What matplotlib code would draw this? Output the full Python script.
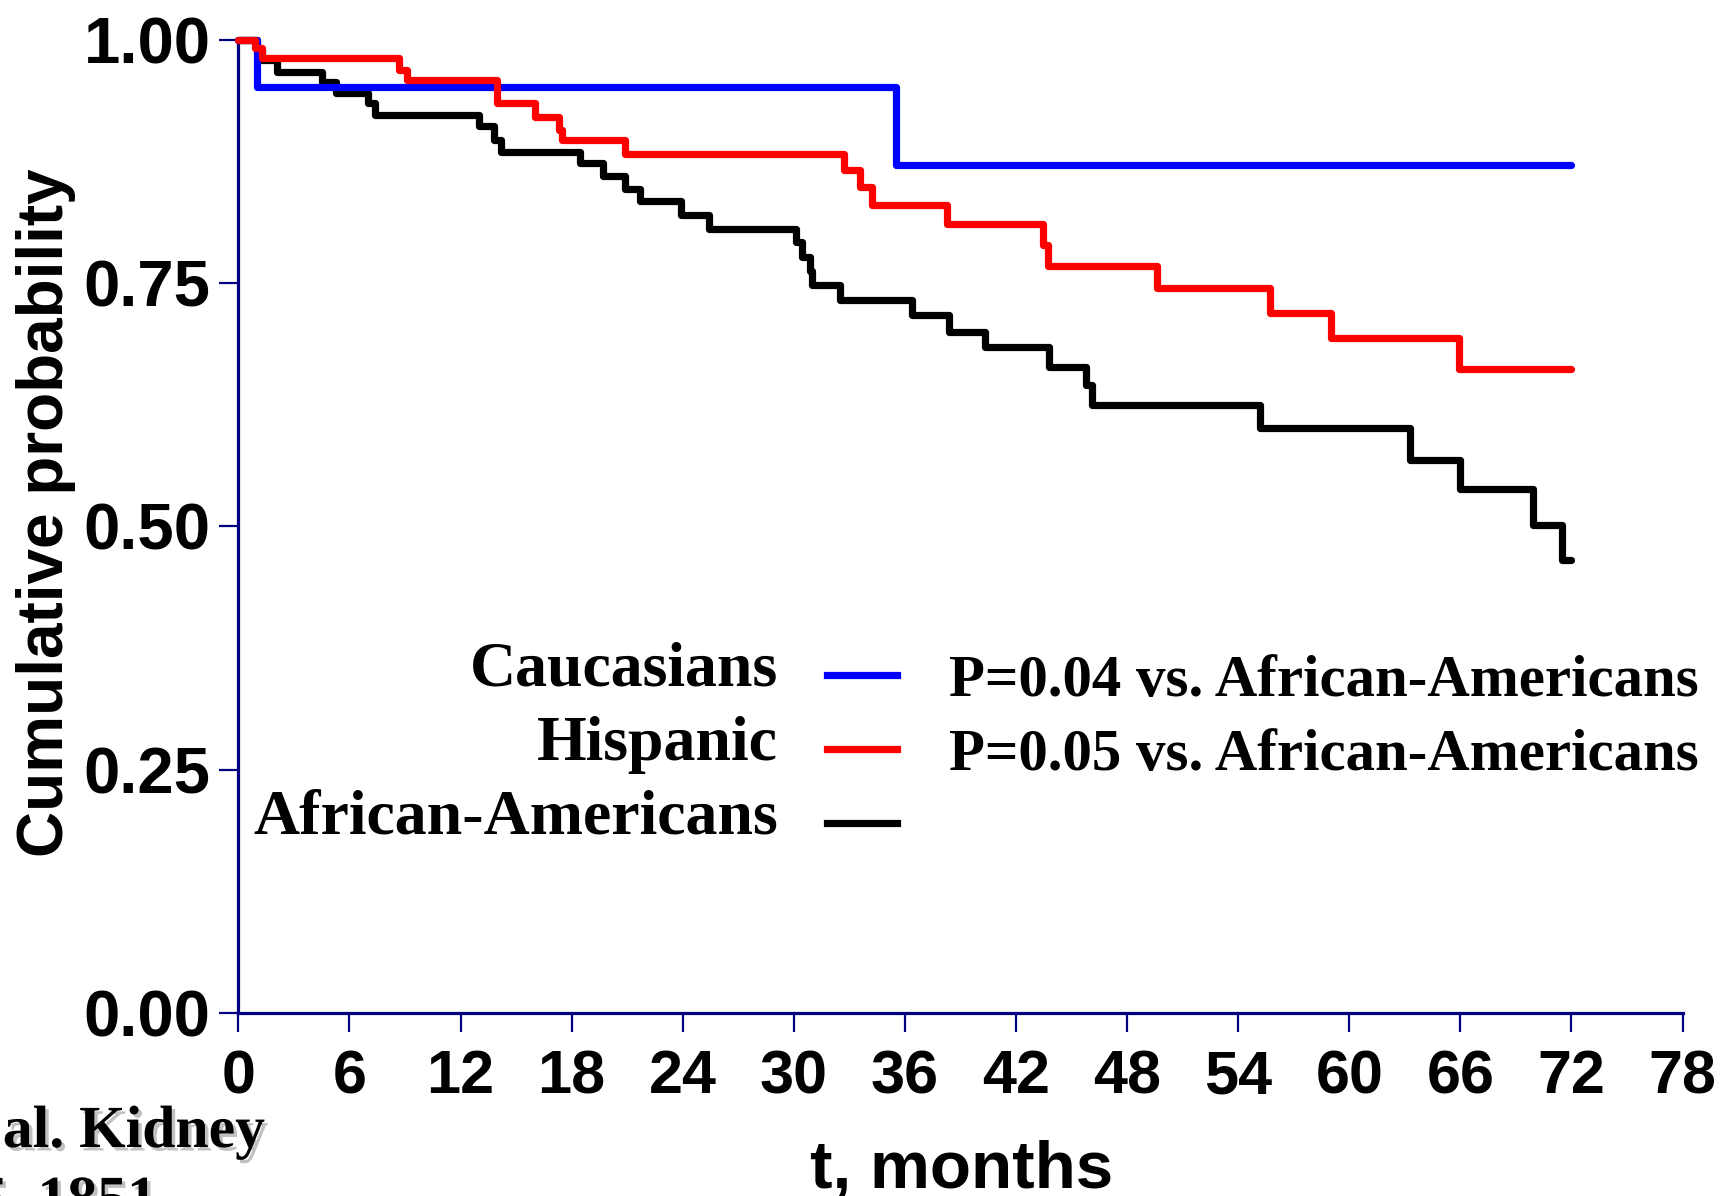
import matplotlib
matplotlib.use("Agg")
import matplotlib.pyplot as plt
from matplotlib.lines import Line2D
import matplotlib.patheffects as pe

# Kaplan-Meier estimates: event times (months) and cumulative probability
cau_t = [0, 1.0, 35.5, 72]
cau_s = [1.0, 0.951, 0.871, 0.871]

his_t = [0, 0.9, 1.3, 8.7, 9.1, 13.95, 16.0, 17.3, 17.5, 20.9, 32.7, 33.6,
         34.2, 38.3, 43.45, 43.75, 49.6, 55.7, 59.0, 65.9, 72]
his_s = [1.0, 0.991, 0.981, 0.969, 0.959, 0.935, 0.921, 0.907, 0.897, 0.883,
         0.866, 0.849, 0.830, 0.811, 0.789, 0.767, 0.745, 0.719, 0.693, 0.662,
         0.662]

aa_t = [0, 1.0, 1.3, 2.1, 4.5, 5.3, 7.0, 7.4, 13.0, 13.8, 14.2, 18.45, 19.7,
        20.9, 21.7, 23.9, 25.4, 30.1, 30.45, 30.85, 31.0, 32.5, 36.4, 38.4,
        40.3, 43.8, 45.8, 46.1, 55.2, 63.3, 66.0, 69.9, 71.5, 72]
aa_s = [1.0, 0.989, 0.979, 0.967, 0.957, 0.945, 0.935, 0.923, 0.911, 0.897,
        0.885, 0.873, 0.860, 0.847, 0.834, 0.820, 0.806, 0.792, 0.777, 0.762,
        0.748, 0.733, 0.717, 0.700, 0.684, 0.664, 0.645, 0.625, 0.601, 0.568,
        0.538, 0.501, 0.465, 0.465]

groups = ["Caucasians", "Hispanic", "African-Americans"]
group_colors = ["#0000ff", "#ff0000", "#000000"]
p_labels = ["P=0.04 vs. African-Americans", "P=0.05 vs. African-Americans"]
x_ticks = list(range(0, 79, 6))
y_ticks = [0.0, 0.25, 0.50, 0.75, 1.00]

SANS = "Liberation Sans"
SERIF = "Liberation Serif"
AXIS_COLOR = "#000080"

W, H = 1730, 1196
fig = plt.figure(figsize=(W / 100, H / 100), dpi=100)
fig.patch.set_facecolor("white")

# axes box in pixel units
x0, x1, y_top, y_bot = 238.3, 1682.6, 39.7, 1012.9
ax = fig.add_axes([x0 / W, 1 - y_bot / H, (x1 - x0) / W, (y_bot - y_top) / H])

curves = [(cau_t, cau_s), (his_t, his_s), (aa_t, aa_s)]
zorders = [3, 4, 2]
lines = []
for (t, s), c, z in zip(curves, group_colors, zorders):
    ln, = ax.step(t, s, where="post", color=c, lw=5.2, zorder=z, clip_on=False,
                  solid_joinstyle="round", solid_capstyle="round")
    lines.append(ln)

ax.set_xlim(0, 78)
ax.set_ylim(0, 1.0)
ax.set_xticks(x_ticks)
ax.set_xticklabels([str(v) for v in x_ticks])
ax.set_yticks(y_ticks)
ax.set_yticklabels([f"{v:.2f}" for v in y_ticks])

for side in ("top", "right"):
    ax.spines[side].set_visible(False)
for side in ("left", "bottom"):
    ax.spines[side].set_color(AXIS_COLOR)
    ax.spines[side].set_linewidth(2.3)

ax.tick_params(axis="both", direction="out", length=14, width=1.6,
               color=AXIS_COLOR)
ax.tick_params(axis="x", pad=12, labelsize=44)
ax.tick_params(axis="y", pad=6, labelsize=47)
for lab in ax.get_xticklabels() + ax.get_yticklabels():
    lab.set_fontfamily(SANS)
    lab.set_fontweight("bold")

# axis titles
fig.text(16 / W, 1 - 513 / H, "Cumulative probability", rotation=90,
         ha="left", va="center", fontsize=46, fontweight="bold",
         family=SANS)
fig.text(962 / W, 1 - 1188 / H, "t, months", ha="center", va="baseline",
         fontsize=48.5, fontweight="bold", family=SANS)

# legend block: group name, line swatch, comparison p-value
row_base = [686, 760, 834]
for i, (name, ln) in enumerate(zip(groups, lines)):
    yb = row_base[i]
    fig.text(778 / W, 1 - yb / H, name, ha="right", va="baseline",
             fontsize=46, fontweight="bold", family=SERIF)
    sw = Line2D([827 / W, 897 / W], [1 - (yb - 11) / H] * 2,
                transform=fig.transFigure, color=ln.get_color(), lw=5.2)
    fig.add_artist(sw)
    if i < len(p_labels):
        fig.text(949 / W, 1 - (yb + 10) / H, p_labels[i], ha="left",
                 va="baseline", fontsize=42.4, fontweight="bold", family=SERIF)

# citation fragment at the lower left
shadow = [pe.withSimplePatchShadow(offset=(2.5, -2.5), shadow_rgbFace="#999999",
                                   alpha=0.6)]
fig.text(265 / W, 1 - 1147 / H, "et al. Kidney", ha="right", va="baseline",
         fontsize=43, fontweight="bold", family=SERIF, path_effects=shadow)
fig.text(157 / W, 1 - 1217 / H, "5, 1851", ha="right", va="baseline",
         fontsize=43, fontweight="bold", family=SERIF, path_effects=shadow)

fig.savefig("out.png", dpi=100, facecolor="white")
